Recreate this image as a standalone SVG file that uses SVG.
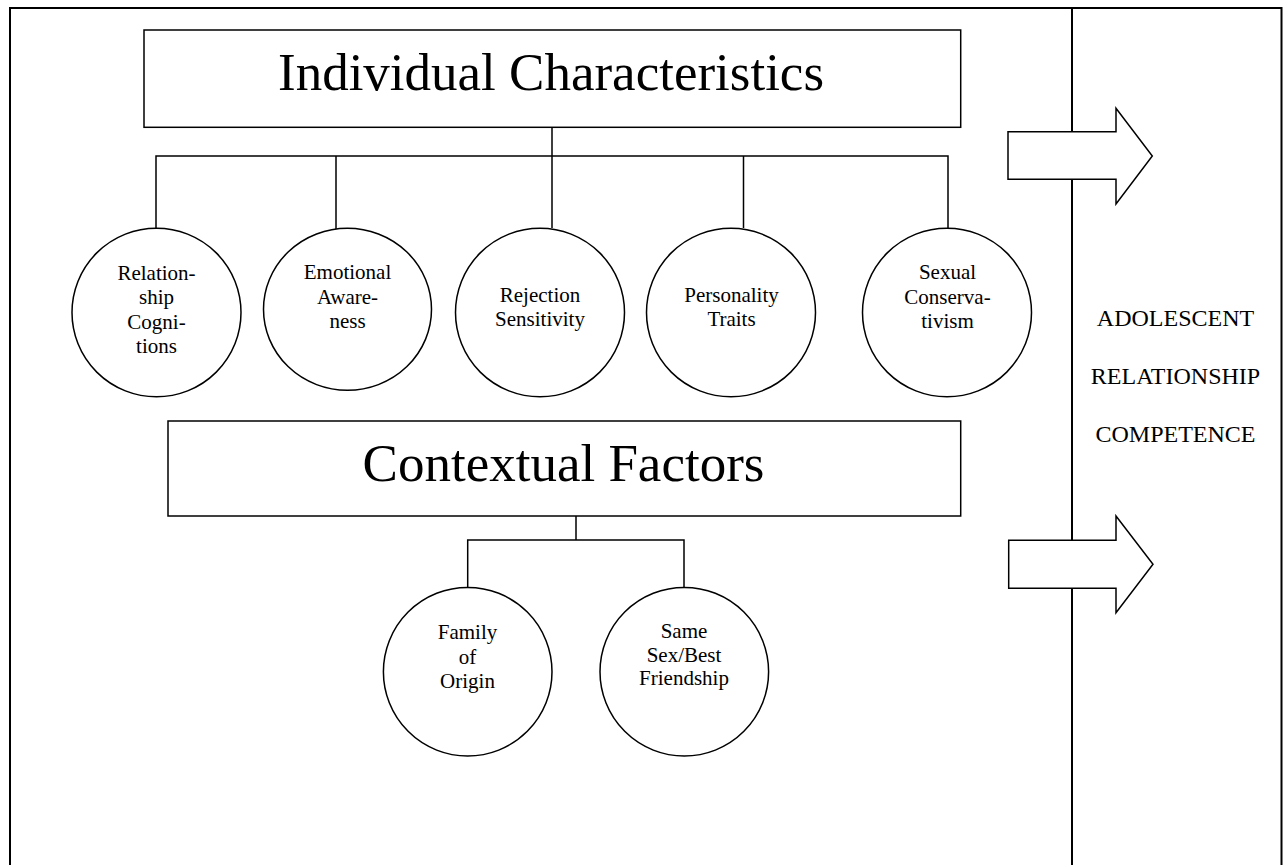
<svg xmlns="http://www.w3.org/2000/svg" width="1283" height="865" viewBox="0 0 1283 865">
  <style>
    .ln { fill: none; stroke: #000; stroke-width: 1.5; }
    .bd { fill: none; stroke: #000; stroke-width: 2; }
    .nd { fill: #fff; stroke: #000; stroke-width: 1.5; }
    .big { font-family: "Liberation Serif", "Times New Roman", serif; font-size: 53px; text-anchor: middle; fill: #000; }
    .sm { font-family: "Liberation Serif", "Times New Roman", serif; font-size: 21px; text-anchor: middle; fill: #000; }
    .out { font-family: "Liberation Serif", "Times New Roman", serif; font-size: 24px; text-anchor: middle; fill: #000; }
  </style>
  <rect width="1283" height="865" fill="#fff"/>

  <g id="frame">
    <path class="bd" d="M10,865 V8 H1281.5 V865"/>
    <path class="bd" d="M1072,8 V865"/>
  </g>

  <g id="connectors">
    <path class="ln" d="M552,127.3 V156 M156,228 V156 H948 V228 M336,156 V229 M552,156 V228 M743.5,156 V228"/>
    <path class="ln" d="M576,516 V540 M467.7,587 V540 H684 V587"/>
  </g>

  <g id="arrow-top">
    <polygon class="nd" points="1008,131.7 1116,131.7 1116,108.3 1152.3,156 1116,204 1116,179.3 1008,179.3"/>
  </g>
  <g id="arrow-bottom">
    <polygon class="nd" points="1008.7,540.3 1116,540.3 1116,516 1153,564.3 1116,612.7 1116,588.3 1008.7,588.3"/>
  </g>

  <g id="individual-characteristics">
    <rect class="nd" x="144" y="30" width="816.7" height="97.3"/>
    <text class="big" x="551" y="90">Individual Characteristics</text>
  </g>

  <g id="relationship-cognitions">
    <ellipse class="nd" cx="156.5" cy="312.5" rx="84.5" ry="84.3"/>
    <text class="sm" x="156.5" y="280">Relation-</text>
    <text class="sm" x="156.5" y="304.3">ship</text>
    <text class="sm" x="156.5" y="328.5">Cogni-</text>
    <text class="sm" x="156.5" y="353">tions</text>
  </g>

  <g id="emotional-awareness">
    <ellipse class="nd" cx="347.5" cy="309.3" rx="84" ry="81"/>
    <text class="sm" x="347.5" y="279.3">Emotional</text>
    <text class="sm" x="347.5" y="303.5">Aware-</text>
    <text class="sm" x="347.5" y="328">ness</text>
  </g>

  <g id="rejection-sensitivity">
    <ellipse class="nd" cx="540" cy="312.5" rx="84.5" ry="84.3"/>
    <text class="sm" x="540" y="301.7">Rejection</text>
    <text class="sm" x="540" y="325.5">Sensitivity</text>
  </g>

  <g id="personality-traits">
    <ellipse class="nd" cx="731" cy="312.5" rx="84.5" ry="84.3"/>
    <text class="sm" x="731.5" y="301.7">Personality</text>
    <text class="sm" x="731.5" y="325.5">Traits</text>
  </g>

  <g id="sexual-conservativism">
    <ellipse class="nd" cx="947" cy="312.5" rx="84.5" ry="84.3"/>
    <text class="sm" x="947.5" y="279.3">Sexual</text>
    <text class="sm" x="947.5" y="303.5">Conserva-</text>
    <text class="sm" x="947.5" y="328">tivism</text>
  </g>

  <g id="contextual-factors">
    <rect class="nd" x="168" y="421" width="792.7" height="95"/>
    <text class="big" x="563.5" y="480.7">Contextual Factors</text>
  </g>

  <g id="family-of-origin">
    <ellipse class="nd" cx="467.7" cy="671.7" rx="84.3" ry="84.3"/>
    <text class="sm" x="467.5" y="639.3">Family</text>
    <text class="sm" x="467.5" y="663.5">of</text>
    <text class="sm" x="467.5" y="688">Origin</text>
  </g>

  <g id="same-sex-best-friendship">
    <ellipse class="nd" cx="684.3" cy="671.7" rx="84.3" ry="84.3"/>
    <text class="sm" x="684" y="638.3">Same</text>
    <text class="sm" x="684" y="661.7">Sex/Best</text>
    <text class="sm" x="684" y="685">Friendship</text>
  </g>

  <g id="adolescent-relationship-competence">
    <text class="out" x="1175.5" y="326.3">ADOLESCENT</text>
    <text class="out" x="1175.5" y="384.3">RELATIONSHIP</text>
    <text class="out" x="1175.5" y="442.3">COMPETENCE</text>
  </g>
</svg>
